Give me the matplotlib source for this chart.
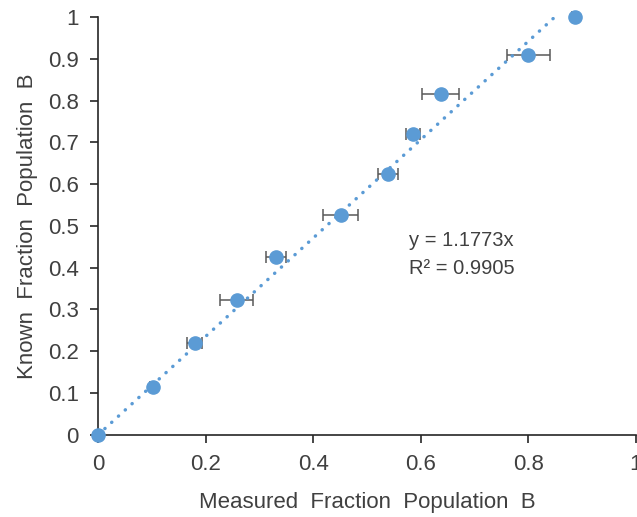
import numpy as np
import matplotlib.pyplot as plt

plt.rcParams['font.family'] = ['Liberation Sans', 'DejaVu Sans']

# measured vs. known fraction of population B
measured = [0.0, 0.102, 0.180, 0.258, 0.331, 0.451, 0.539, 0.586, 0.637, 0.800, 0.887]
known = [0.0, 0.114, 0.219, 0.322, 0.426, 0.526, 0.625, 0.721, 0.816, 0.909, 1.0]
measured_err = [0.0, 0.006, 0.014, 0.031, 0.018, 0.033, 0.018, 0.013, 0.035, 0.040, 0.006]

slope = 1.1773
r_squared = 0.9905

blue = '#5B9BD5'
text_col = '#404040'

fig = plt.figure(figsize=(6.37, 5.17), dpi=100)
ax = fig.add_axes([0.154, 0.159, 0.844, 0.808])

ax.errorbar(measured, known, xerr=measured_err, fmt='none', ecolor='#595959',
            elinewidth=1.1, capsize=4.5, capthick=1.1, zorder=2, clip_on=False)
ax.plot(measured, known, 'o', color=blue, markersize=9.5, zorder=3, clip_on=False)

# linear trendline through the origin
xs = np.array([0.0, max(measured)])
ax.plot(xs, slope * xs, color=blue, linewidth=2.5, linestyle=(0, (0.05, 2.6)),
        dash_capstyle='round', zorder=4)

ax.text(0.579, 0.465, f'y = {slope}x', fontsize=14.5, color=text_col, va='center')
ax.text(0.579, 0.398, f'R² = {r_squared}', fontsize=14.5, color=text_col, va='center')

ax.set_xlim(0, 1)
ax.set_ylim(0, 1)
ax.set_xticks(np.arange(0, 1.01, 0.2))
ax.set_yticks(np.arange(0, 1.01, 0.1))
ax.set_xticklabels(['0', '0.2', '0.4', '0.6', '0.8', '1'])
ax.set_yticklabels(['0'] + [f'{v:.1f}' for v in np.arange(0.1, 0.95, 0.1)] + ['1'])

for side in ['top', 'right']:
    ax.spines[side].set_visible(False)
for side in ['left', 'bottom']:
    ax.spines[side].set_color('#262626')
    ax.spines[side].set_linewidth(1.2)
ax.tick_params(axis='both', direction='out', length=6, width=1.2, color='#262626',
               labelsize=16, labelcolor=text_col)
ax.tick_params(axis='x', pad=8)
ax.tick_params(axis='y', pad=8)

ax.set_xlabel('Measured  Fraction  Population  B', fontsize=16, color=text_col, labelpad=12)
ax.set_ylabel('Known  Fraction  Population  B', fontsize=16, color=text_col, labelpad=7)

fig.savefig('out.png', dpi=100)
